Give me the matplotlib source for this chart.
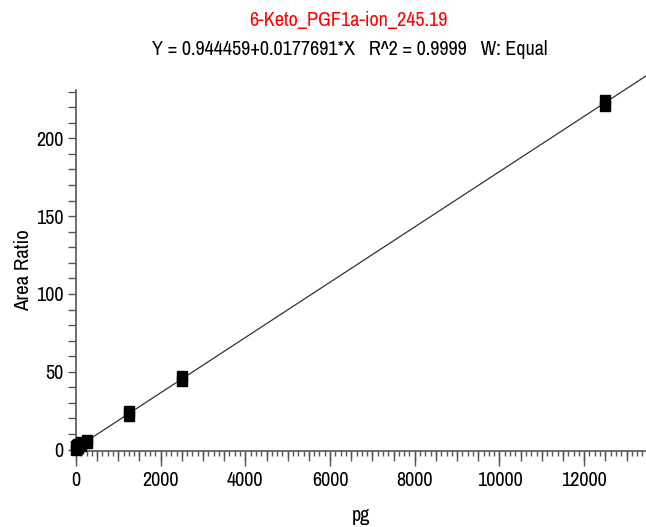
import matplotlib
matplotlib.use("Agg")
import matplotlib.pyplot as plt
from matplotlib import font_manager
from matplotlib.ticker import MultipleLocator, NullFormatter
import numpy as np

names = sorted({f.name for f in font_manager.fontManager.ttflist})
narrow = [n for n in names if 'Narrow' in n or 'Condensed' in n]
FONT = narrow[0] if narrow else 'Liberation Sans'
plt.rcParams['font.family'] = [FONT, 'DejaVu Sans']

# calibration data (pg vs area ratio), duplicates per level
conc = [10, 10, 25, 25, 50, 50, 125, 125, 250, 250, 1250, 1250, 2500, 2500, 12500, 12500]
ratio = [0.0, 2.2, 0.6, 2.8, 1.2, 3.4, 2.4, 4.6, 3.9, 6.4, 21.6, 25.0, 43.8, 47.4, 220.8, 224.8]
intercept = 0.944459
slope = 0.0177691
title = "6-Keto_PGF1a-ion_245.19"
subtitle = "Y = 0.944459+0.0177691*X   R^2 = 0.9999   W: Equal"

fig = plt.figure(figsize=(6.46, 5.27), dpi=100)
ax = fig.add_axes([0.1176, 0.144, 0.8824, 0.685])

xfit = np.array([0, 13460])
ax.plot(xfit, intercept + slope * xfit, color='#333333', lw=0.9, clip_on=False, zorder=2)
ax.plot(conc, ratio, linestyle='none', marker='s', markersize=6.5, color='black',
        clip_on=False, zorder=3)

ax.set_xlim(0, 13460)
ax.set_ylim(-1, 231)
ax.xaxis.set_major_locator(MultipleLocator(2000))
ax.xaxis.set_minor_locator(MultipleLocator(125))
ax.yaxis.set_major_locator(MultipleLocator(50))
ax.yaxis.set_minor_locator(MultipleLocator(10))
for s in ['top', 'right']:
    ax.spines[s].set_visible(False)
for s in ['left', 'bottom']:
    ax.spines[s].set_color('#555555')
    ax.spines[s].set_linewidth(1.2)
ax.tick_params(axis='x', which='major', length=11, width=1, color='#555555', labelsize=14.5, pad=3)
ax.tick_params(axis='x', which='minor', length=3.8, width=1, color='#555555')
ax.tick_params(axis='y', which='both', length=6, width=1, color='#555555', labelsize=14.5, pad=3)

# medium ticks every 500 pg
sec = ax.secondary_xaxis('bottom')
sec.xaxis.set_major_locator(MultipleLocator(500))
sec.xaxis.set_major_formatter(NullFormatter())
sec.tick_params(length=7.5, width=1, color='#555555')
sec.spines['bottom'].set_visible(False)

ax.set_xlabel('pg', fontsize=14.5, labelpad=12)
ax.set_ylabel('Area Ratio', fontsize=15, labelpad=2)

fig.text(0.539, 0.962, title, color='#ff0000', fontsize=14.5, ha='center', va='center')
fig.text(0.541, 0.907, subtitle, color='black', fontsize=14.5, ha='center', va='center')

fig.savefig('out.png', dpi=100)
